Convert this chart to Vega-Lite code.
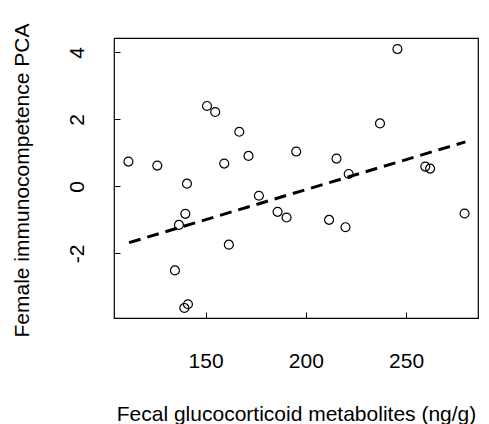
{
  "$schema": "https://vega.github.io/schema/vega-lite/v6.json",
  "width": 364,
  "height": 280,
  "autosize": {"type": "none"},
  "padding": {"left": 114, "top": 38, "right": 11, "bottom": 106},
  "background": "white",
  "config": {
    "view": {"stroke": "black", "strokeWidth": 1.2},
    "font": "Liberation Sans",
    "axis": {
      "grid": false,
      "domain": false,
      "ticks": true,
      "tickColor": "black",
      "tickSize": -6,
      "tickWidth": 1,
      "labelFont": "Liberation Sans",
      "labelFontSize": 21,
      "labelColor": "black",
      "titleFont": "Liberation Sans",
      "titleFontSize": 21,
      "titleFontWeight": "normal",
      "titleColor": "black"
    }
  },
  "datasets": {
    "pts": [
      {"gc": 111.5, "pca": 0.74},
      {"gc": 125.9, "pca": 0.62},
      {"gc": 140.7, "pca": 0.08},
      {"gc": 139.9, "pca": -0.82},
      {"gc": 136.7, "pca": -1.15},
      {"gc": 134.7, "pca": -2.51},
      {"gc": 139.4, "pca": -3.63},
      {"gc": 141.2, "pca": -3.52},
      {"gc": 150.7, "pca": 2.40},
      {"gc": 154.8, "pca": 2.22},
      {"gc": 159.3, "pca": 0.68},
      {"gc": 161.6, "pca": -1.74},
      {"gc": 166.8, "pca": 1.63},
      {"gc": 171.4, "pca": 0.91},
      {"gc": 176.6, "pca": -0.28},
      {"gc": 185.9, "pca": -0.76},
      {"gc": 190.4, "pca": -0.93},
      {"gc": 195.2, "pca": 1.04},
      {"gc": 211.6, "pca": -1.00},
      {"gc": 215.3, "pca": 0.83},
      {"gc": 219.8, "pca": -1.22},
      {"gc": 221.4, "pca": 0.37},
      {"gc": 237.0, "pca": 1.88},
      {"gc": 245.7, "pca": 4.10},
      {"gc": 259.6, "pca": 0.59},
      {"gc": 262.0, "pca": 0.53},
      {"gc": 279.2, "pca": -0.81}
    ],
    "fit": [
      {"gc": 111.8, "pca": -1.68},
      {"gc": 279.6, "pca": 1.33}
    ]
  },
  "layer": [
    {
      "data": {"name": "pts"},
      "mark": {"type": "point", "shape": "circle", "filled": false, "stroke": "black", "strokeWidth": 1.2, "size": 80, "opacity": 1},
      "encoding": {
        "x": {
          "field": "gc", "type": "quantitative",
          "scale": {"domain": [104.3, 285.9], "nice": false, "zero": false},
          "axis": {
            "values": [150, 200, 250],
            "title": "Fecal glucocorticoid metabolites (ng/g)",
            "labelBaseline": "alphabetic",
            "labelPadding": 55,
            "titleY": 102,
            "titleBaseline": "alphabetic"
          }
        },
        "y": {
          "field": "pca", "type": "quantitative",
          "scale": {"domain": [-3.93, 4.43], "nice": false, "zero": false},
          "axis": {
            "values": [-2, 0, 2, 4],
            "labelExpr": "datum.value < 0 ? '-' + abs(datum.value) : '' + datum.value",
            "title": "Female immunocompetence PCA",
            "labelAngle": -90,
            "labelAlign": "center",
            "labelBaseline": "alphabetic",
            "labelPadding": 36.7,
            "titleX": -86,
            "titleY": 142,
            "titleBaseline": "alphabetic",
            "titleAngle": -90
          }
        }
      }
    },
    {
      "data": {"name": "fit"},
      "mark": {"type": "line", "color": "black", "strokeWidth": 3, "strokeDash": [12, 7]},
      "encoding": {
        "x": {"field": "gc", "type": "quantitative"},
        "y": {"field": "pca", "type": "quantitative"}
      }
    }
  ]
}
